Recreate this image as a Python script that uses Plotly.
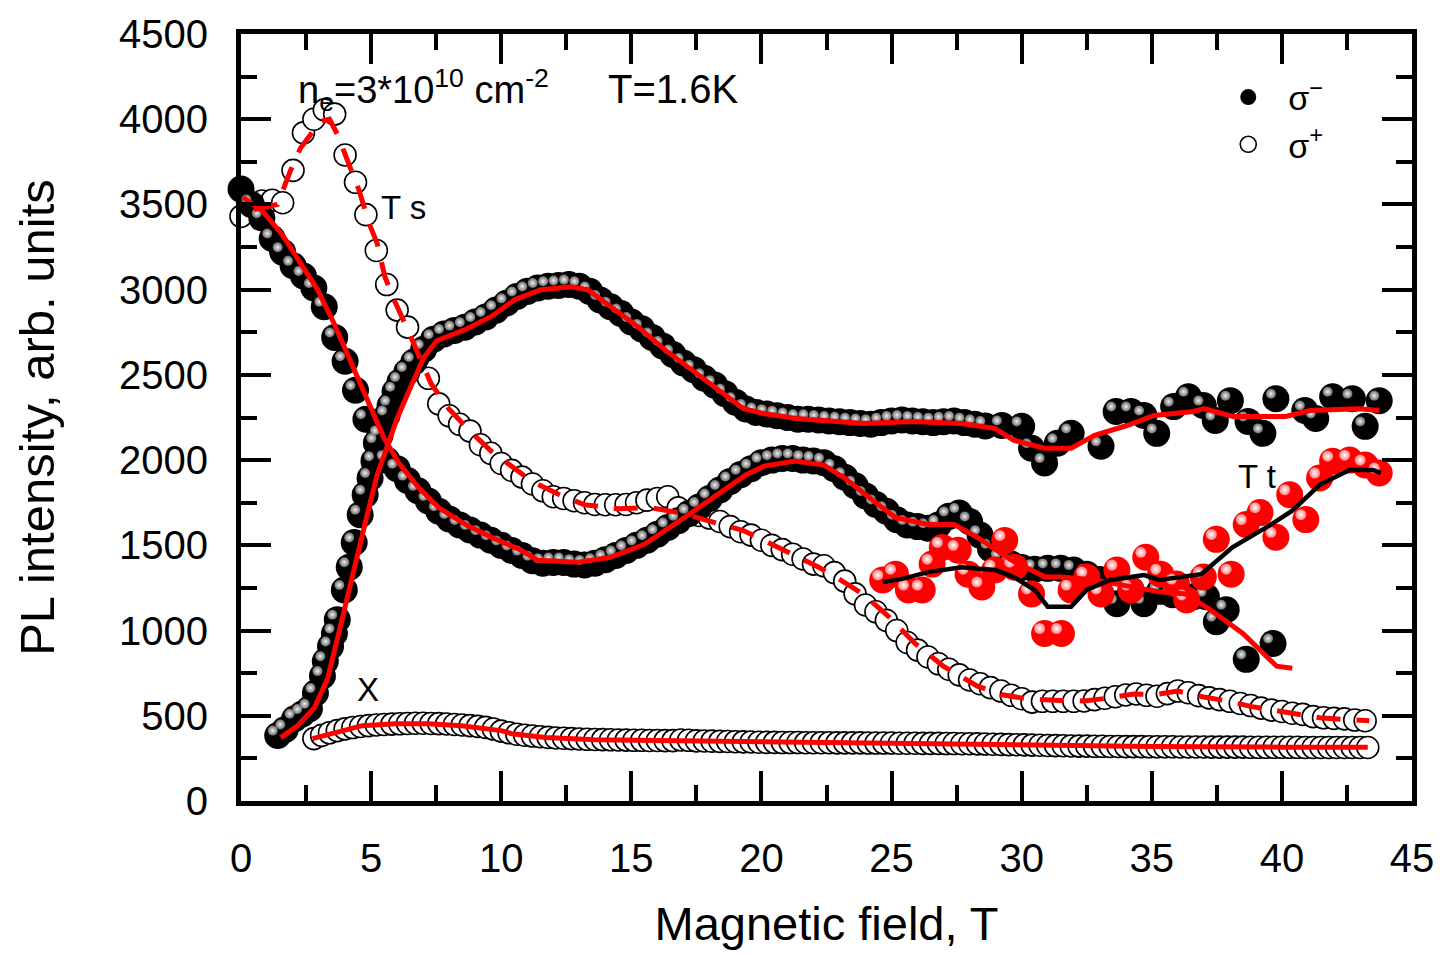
import plotly.graph_objects as go

# ---------------- data ----------------
# sigma- , Ts branch (black spheres, lower curve)
A_x = [0.0, 0.4, 0.8, 1.2, 1.6, 2.0, 2.4, 2.8, 3.2, 3.6,
       4.0, 4.4, 4.8, 5.2, 5.6, 6.0, 6.4, 6.8, 7.2, 7.6,
       8.0, 8.4, 8.8, 9.2, 9.6, 10.0, 10.4, 10.8, 11.2, 11.6,
       12.0, 12.4, 12.8, 13.2, 13.6, 14.0, 14.4, 14.8, 15.2, 15.6,
       16.0, 16.4, 16.8, 17.2, 17.6, 18.0, 18.4, 18.8, 19.2, 19.6,
       20.0, 20.4, 20.8, 21.2, 21.6, 22.0, 22.4, 22.8, 23.2, 23.6,
       24.0, 24.4, 24.8, 25.2, 25.6, 26.0, 26.4, 26.8, 27.2, 27.6,
       28.0, 28.4, 28.8, 29.2,
       29.6, 30.0, 30.5, 31.0, 31.5, 32.0, 32.5, 33.0, 33.66, 34.2,
       34.7, 35.3, 35.8, 36.6, 37.1, 37.48, 37.86, 38.63, 39.66]
A_y = [3590, 3500, 3420, 3300, 3220, 3140, 3080, 3010, 2900, 2720,
       2580, 2410, 2240, 2100, 2000, 1950, 1880, 1820, 1760, 1700,
       1655, 1620, 1590, 1560, 1530, 1500, 1470, 1440, 1410, 1395,
       1400, 1400, 1390, 1385, 1395, 1415, 1440, 1470, 1500, 1530,
       1565, 1605, 1645, 1685, 1725, 1775, 1825, 1875, 1915, 1950,
       1985, 2000, 2010, 2010, 2000, 1995, 1985, 1950, 1900, 1850,
       1790, 1740, 1700, 1650, 1620, 1610, 1600, 1620, 1670, 1690,
       1640, 1560, 1480, 1420,
       1390, 1370, 1360, 1365, 1365, 1355, 1330, 1300, 1157, 1240,
       1157, 1230, 1210, 1198, 1198, 1052, 1122, 831, 924]
A_fit_x = [0.08, 0.8, 1.6, 2.25, 2.94, 3.59, 4.16, 4.85, 5.5, 6.07, 6.83, 7.6,
           8.63, 9.62, 10.76, 11.4, 12.94, 14.2, 15.5, 16.87, 18.0, 19.4, 20.1,
           21.3, 22.4, 23.2, 24.3, 25.15, 26.4, 27.4, 28.3, 29.6, 30.9, 31.5,
           32.8, 34.3, 35.3, 36.3, 37.25, 38.5, 39.8, 40.4]
A_fit_y = [3541, 3465, 3320, 3163, 3000, 2797, 2593, 2360, 2128, 1983, 1837, 1721,
           1622, 1547, 1471, 1413, 1401, 1430, 1506, 1645, 1762, 1913, 1965,
           1994, 1971, 1895, 1762, 1663, 1622, 1622, 1547, 1413, 1314, 1314,
           1297, 1256, 1227, 1215, 1122, 983, 791, 779]

# sigma- , upper curve (black spheres)
B_x = [1.41, 1.7, 2.06, 2.35, 2.63, 2.86, 3.13, 3.24, 3.44, 3.59,
       3.7, 3.97, 4.16, 4.35, 4.58, 4.77, 4.96, 5.11, 5.34, 5.61,
       5.73, 5.92, 6.11, 6.37, 6.64, 7.02, 7.4,
       7.8, 8.2, 8.6, 9.0, 9.4, 9.8, 10.2, 10.6, 11.0, 11.4,
       11.8, 12.2, 12.6, 13.0, 13.4, 13.8, 14.2, 14.6, 15.0, 15.4,
       15.8, 16.2, 16.6, 17.0, 17.4, 17.8, 18.2, 18.6, 19.0, 19.4,
       19.8, 20.2, 20.6, 21.0, 21.4, 21.8, 22.2, 22.6, 23.0, 23.4,
       23.8, 24.2, 24.6, 25.0, 25.4, 25.8, 26.2, 26.6, 27.0, 27.4,
       27.8, 28.2, 28.6,
       29.24, 30.0, 30.38, 30.88, 31.37, 31.9, 33.05, 33.63, 34.2, 34.7,
       35.19, 35.84, 36.41, 36.98, 37.44, 38.02, 38.7, 39.27, 39.77, 40.88,
       41.3, 41.95, 42.71, 43.2, 43.74]
B_y = [384, 420, 483, 510, 541, 634, 733, 820, 907, 983,
       1064, 1238, 1372, 1517, 1680, 1797, 1895, 1994, 2145, 2262,
       2320, 2401, 2459, 2517, 2576, 2651, 2709,
       2740, 2760, 2780, 2810, 2840, 2880, 2920, 2960, 2990, 3010,
       3020, 3025, 3030, 3020, 2990, 2940, 2900, 2860, 2810, 2770,
       2720, 2670, 2620, 2570, 2530, 2480, 2440, 2390, 2340, 2300,
       2280, 2270, 2260, 2250, 2240, 2240, 2235, 2230, 2225, 2220,
       2215, 2210, 2220, 2230, 2235, 2230, 2225, 2220, 2225, 2230,
       2220, 2210, 2200,
       2203, 2198, 2070, 1983, 2099, 2157, 2081, 2285, 2285, 2262,
       2157, 2314, 2372, 2320, 2233, 2349, 2227, 2157, 2360, 2291,
       2244, 2372, 2360, 2198, 2349]
B_fit_x = [1.53, 2.18, 2.82, 3.32, 3.7, 4.08, 4.47, 4.85, 5.23, 5.61, 6.0, 6.49,
           7.02, 7.52, 8.63, 9.62, 10.53, 11.53, 12.67, 13.32, 14.2, 15.23, 16.26,
           17.25, 18.28, 19.31, 20.08, 21.34, 23.9, 25.8, 27.7, 28.97, 29.7, 30.88,
           31.9, 32.8, 34.05, 35.08, 36.6, 37.0, 38.13, 40.15, 41.07, 42.98, 43.74]
B_fit_y = [372, 442, 547, 715, 948, 1180, 1430, 1680, 1913, 2087, 2244, 2419,
           2600, 2700, 2767, 2843, 2942, 3000, 3017, 3000, 2901, 2785, 2651,
           2535, 2419, 2302, 2273, 2244, 2215, 2227, 2215, 2186, 2116, 2070,
           2070, 2145, 2203, 2262, 2285, 2302, 2256, 2256, 2291, 2302, 2291]

# sigma+ , Ts branch (open circles)
C_x = [0.0, 0.4, 0.8, 1.2, 1.6, 2.0, 2.4, 2.8, 3.2, 3.6,
       4.0, 4.4, 4.8, 5.2, 5.6, 6.0, 6.4, 6.8, 7.2, 7.6,
       8.0, 8.4, 8.8, 9.2, 9.6, 10.0, 10.4, 10.8, 11.2, 11.6,
       12.0, 12.4, 12.8, 13.2, 13.6, 14.0, 14.4, 14.8, 15.2, 15.6,
       16.0, 16.4, 16.8, 17.2, 17.6, 18.0, 18.4, 18.8, 19.2, 19.6,
       20.0, 20.4, 20.8, 21.2, 21.6, 22.0, 22.4, 22.8, 23.2, 23.6,
       24.0, 24.4, 24.8, 25.2, 25.6, 26.0, 26.4, 26.8, 27.2, 27.6,
       28.0, 28.4, 28.8, 29.2, 29.6, 30.0, 30.4, 30.8, 31.2, 31.6,
       32.0, 32.4, 32.8, 33.2, 33.6, 34.0, 34.4, 34.8, 35.2, 35.6,
       36.0, 36.4, 36.8, 37.2, 37.6, 38.0, 38.4, 38.8, 39.2, 39.6,
       40.0, 40.4, 40.8, 41.2, 41.6, 42.0, 42.4, 42.8, 43.2]
C_y = [3430, 3490, 3520, 3525, 3510, 3700, 3920, 4000, 4055, 4030,
       3790, 3630, 3440, 3230, 3030, 2880, 2780, 2600, 2480, 2330,
       2260, 2210, 2170, 2090, 2040, 1980, 1940, 1900, 1860, 1820,
       1785, 1775, 1762, 1750, 1740, 1738, 1738, 1740, 1750, 1765,
       1775, 1785, 1720, 1695, 1675, 1660, 1640, 1610, 1580, 1560,
       1530, 1500, 1475, 1448, 1420, 1390, 1380, 1340, 1290, 1215,
       1150, 1110, 1060, 1000, 930, 885, 845, 805, 773, 740,
       710, 688, 665, 645, 620, 600, 580, 585, 585, 585,
       585, 587, 595, 603, 612, 622, 628, 620, 615, 630,
       645, 635, 618, 605, 595, 585, 572, 560, 545, 533,
       525, 515, 508, 495, 488, 485, 482, 475, 471]
C_fit_x = [0.5, 1.4, 1.9, 2.29, 3.05, 3.4, 3.7, 4.27, 4.54, 4.92, 5.23, 5.53,
           5.88, 6.45, 7.3, 7.98, 8.8, 9.62, 10.4, 11.15, 12.2, 13.2, 14.5,
           15.73, 16.9, 18.0, 19.3, 20.1, 21.2, 22.2, 23.0, 23.9, 24.9, 25.9,
           27.0, 28.3, 29.2, 30.2, 31.5, 32.4, 33.4, 34.3, 35.2, 36.0, 37.0,
           37.9, 38.8, 39.8, 40.6, 41.45, 42.4, 43.36]
C_fit_y = [3470, 3500, 3698, 3831, 3988, 4000, 3913, 3698, 3581, 3390, 3273, 3076,
           2942, 2750, 2450, 2302, 2170, 2052, 1960, 1878, 1800, 1738, 1715,
           1721, 1690, 1645, 1587, 1529, 1450, 1372, 1300, 1215, 1080, 924,
           790, 674, 625, 599, 590, 587, 605, 628, 625, 645, 610,
           587, 555, 529, 505, 488, 478, 471]

# sigma+ , exciton X (open circles, bottom)
D_x = [2.8, 3.1, 3.4, 3.7, 4.0, 4.3, 4.6, 4.9, 5.2, 5.5,
       5.8, 6.1, 6.4, 6.7, 7.0, 7.3, 7.6, 7.9, 8.2, 8.5,
       8.8, 9.1, 9.4, 9.7, 10.0, 10.3, 10.6, 10.9, 11.2, 11.5,
       11.8, 12.1, 12.4, 12.7, 13.0, 13.3, 13.6, 13.9, 14.2, 14.5,
       14.8, 15.1, 15.4, 15.7, 16.0, 16.3, 16.6, 16.9, 17.2, 17.5,
       17.8, 18.1, 18.4, 18.7, 19.0, 19.3, 19.6, 19.9, 20.2, 20.5,
       20.8, 21.1, 21.4, 21.7, 22.0, 22.3, 22.6, 22.9, 23.2, 23.5,
       23.8, 24.1, 24.4, 24.7, 25.0, 25.3, 25.6, 25.9, 26.2, 26.5,
       26.8, 27.1, 27.4, 27.7, 28.0, 28.3, 28.6, 28.9, 29.2, 29.5,
       29.8, 30.1, 30.4, 30.7, 31.0, 31.3, 31.6, 31.9, 32.2, 32.5,
       32.8, 33.1, 33.4, 33.7, 34.0, 34.3, 34.6, 34.9, 35.2, 35.5,
       35.8, 36.1, 36.4, 36.7, 37.0, 37.3, 37.6, 37.9, 38.2, 38.5,
       38.8, 39.1, 39.4, 39.7, 40.0, 40.3, 40.6, 40.9, 41.2, 41.5,
       41.8, 42.1, 42.4, 42.7, 43.0, 43.3]
D_y = [366, 385, 400, 413, 423, 431, 437, 442, 446, 449,
       451, 453, 455, 456, 456, 455, 454, 452, 449, 446,
       442, 438, 432, 422, 410, 400, 392, 386, 381, 377,
       373, 370, 368, 366, 364, 362, 361, 360, 359, 358,
       357, 356, 356, 355, 355, 354, 354, 358, 356, 353,
       352, 351, 350, 349, 348, 347, 346, 345, 344, 344,
       343, 343, 343, 342, 342, 342, 342, 341, 341, 341,
       341, 340, 340, 340, 340, 339, 339, 339, 338, 338,
       338, 337, 337, 336, 336, 335, 334, 333, 332, 331,
       330, 329, 328, 327, 326, 325, 324, 323, 322, 322,
       321, 321, 320, 320, 319, 319, 319, 318, 318, 318,
       318, 317, 317, 317, 317, 316, 316, 316, 316, 316,
       315, 315, 315, 315, 315, 315, 315, 314, 314, 314,
       314, 314, 314, 314, 314, 314]
D_fit_x = [2.75, 3.66, 4.66, 5.95, 7.2, 8.47, 9.4, 10.0, 10.4, 11.7, 13.6, 18.7,
           25.0, 30.0, 35.0, 40.0, 43.3]
D_fit_y = [366, 401, 442, 453, 453, 442, 424, 413, 395, 372, 360, 349,
           340, 330, 320, 316, 315]

# Tt branch (red spheres)
E_x = [24.66, 25.15, 25.65, 26.18, 26.56, 26.95, 27.56, 27.94, 28.47, 28.97,
       29.35, 29.73, 30.38, 30.88, 31.53, 31.9, 32.5, 33.05, 33.66, 34.2,
       34.77, 35.34, 35.95, 36.34, 36.98, 37.48, 38.05, 38.63, 39.16, 39.77,
       40.3, 40.92, 41.45, 41.95, 42.6, 43.2, 43.74]
E_y = [1297, 1331, 1238, 1238, 1390, 1488, 1471, 1331, 1256, 1355,
       1529, 1372, 1215, 983, 983, 1238, 1314, 1215, 1355, 1238,
       1430, 1331, 1273, 1180, 1314, 1535, 1331, 1622, 1692, 1547,
       1797, 1651, 1895, 1994, 2000, 1971, 1924]
E_fit_x = [24.66, 25.4, 26.4, 27.7, 28.6, 29.0, 29.7, 30.5, 31.0, 31.9, 32.5,
           33.4, 34.7, 35.3, 36.9, 38.1, 39.4, 40.4, 41.45, 42.6, 43.5, 43.8]
E_fit_y = [1285, 1303, 1343, 1372, 1360, 1355, 1314, 1238, 1140, 1140, 1238,
           1297, 1326, 1297, 1331, 1488, 1605, 1703, 1855, 1942, 1942, 1924]

X_RANGE = [0, 45]
Y_RANGE = [0, 4500]
X_TICKS = [0, 5, 10, 15, 20, 25, 30, 35, 40, 45]
Y_TICKS = [0, 500, 1000, 1500, 2000, 2500, 3000, 3500, 4000, 4500]

# ---------------- style ----------------
FONT = "Liberation Sans, Arial, sans-serif"
RED = "#ff0000"
SPH = 27          # sphere diameter (px)
HL = 10           # highlight diameter (px)
PLOT_W = 1446 - 241 - 26
PLOT_H = 955 - 32 - 149
# highlight offset in data units (about 5 px up-left)
DX = 5 / (PLOT_W / 45)
DY = 5 / (PLOT_H / 4500)

fig = go.Figure()

def add(tr):
    tr.update(cliponaxis=False, hoverinfo="skip")
    fig.add_trace(tr)

# layer 1 (x,y): open circles and black spheres
add(go.Scatter(x=D_x, y=D_y, mode="markers", showlegend=False,
               marker=dict(size=22, color="white", line=dict(color="black", width=1.6))))
add(go.Scatter(x=C_x, y=C_y, mode="markers", name="σ<sup>+</sup>", legendrank=2,
               marker=dict(size=22, color="white", line=dict(color="black", width=1.6))))
add(go.Scatter(x=A_x, y=A_y, mode="markers", name="σ<sup>−</sup>", legendrank=1,
               marker=dict(size=SPH, color="black", line=dict(width=0))))
add(go.Scatter(x=B_x, y=B_y, mode="markers", showlegend=False,
               marker=dict(size=SPH, color="black", line=dict(width=0))))

# layer 2 (x2,y2): sphere highlights, shifted up-left
for xs, ys in ((A_x, A_y), (B_x, B_y)):
    add(go.Scatter(x=xs, y=ys, xaxis="x2", yaxis="y2", mode="markers", showlegend=False,
                   marker=dict(size=HL, color="#6a6a6a", line=dict(width=0),
                               gradient=dict(type="radial", color="#f0f0f0"))))

# layer 3 (x3,y3): red spheres
add(go.Scatter(x=E_x, y=E_y, xaxis="x3", yaxis="y3", mode="markers", showlegend=False,
               marker=dict(size=SPH, color=RED, line=dict(width=0))))
# layer 4 (x4,y4): red sphere highlights
add(go.Scatter(x=E_x, y=E_y, xaxis="x4", yaxis="y4", mode="markers", showlegend=False,
               marker=dict(size=HL + 1, color="#ff8080", line=dict(width=0),
                           gradient=dict(type="radial", color="#ffffff"))))

# layer 5 (x5,y5): fit lines
add(go.Scatter(x=D_fit_x, y=D_fit_y, xaxis="x5", yaxis="y5", mode="lines", showlegend=False,
               line=dict(color=RED, width=5)))
add(go.Scatter(x=C_fit_x, y=C_fit_y, xaxis="x5", yaxis="y5", mode="lines", showlegend=False,
               line=dict(color=RED, width=5, dash="24px,16px")))
add(go.Scatter(x=A_fit_x, y=A_fit_y, xaxis="x5", yaxis="y5", mode="lines", showlegend=False,
               line=dict(color=RED, width=5)))
add(go.Scatter(x=B_fit_x, y=B_fit_y, xaxis="x5", yaxis="y5", mode="lines", showlegend=False,
               line=dict(color=RED, width=5)))
add(go.Scatter(x=E_fit_x, y=E_fit_y, xaxis="x5", yaxis="y5", mode="lines", showlegend=False,
               line=dict(color="black", width=4.5)))

tick_common = dict(ticks="inside", tickcolor="black", tickwidth=4, ticklen=30,
                   showline=True, linecolor="black", linewidth=5, mirror="ticks",
                   showgrid=False, zeroline=False,
                   tickfont=dict(family=FONT, size=40, color="black"))

layout_axes = dict(
    xaxis=dict(range=X_RANGE, tickvals=X_TICKS, ticklabelstandoff=18,
               minor=dict(dtick=2.5, ticks="inside", ticklen=16, tickwidth=4,
                          tickcolor="black", showgrid=False),
               title=dict(text="Magnetic field, T", standoff=30,
                          font=dict(family=FONT, size=47, color="black")),
               **tick_common),
    yaxis=dict(range=Y_RANGE, tickvals=Y_TICKS, ticklabelstandoff=20,
               minor=dict(dtick=250, ticks="inside", ticklen=16, tickwidth=4,
                          tickcolor="black", showgrid=False),
               title=dict(text="PL intensity, arb. units", standoff=50,
                          font=dict(family=FONT, size=49, color="black")),
               **tick_common),
)
shift = {2: (DX, -DY), 3: (0, 0), 4: (DX, -DY), 5: (0, 0)}
for k, (dx, dy) in shift.items():
    layout_axes[f"xaxis{k}"] = dict(overlaying="x", range=[X_RANGE[0] + dx, X_RANGE[1] + dx],
                                    visible=False, showgrid=False, zeroline=False)
    layout_axes[f"yaxis{k}"] = dict(overlaying="y", range=[Y_RANGE[0] + dy, Y_RANGE[1] + dy],
                                    visible=False, showgrid=False, zeroline=False)

fig.update_layout(
    width=1446, height=955,
    margin=dict(l=241, r=26, t=32, b=149),
    paper_bgcolor="white", plot_bgcolor="white",
    font=dict(family=FONT, color="black"),
    showlegend=True,
    legend=dict(x=0.826, y=0.955, xanchor="left", yanchor="top",
                bgcolor="rgba(0,0,0,0)", borderwidth=0,
                font=dict(family=FONT, size=34, color="black"),
                itemsizing="trace", itemwidth=70, tracegroupgap=0),
    annotations=[
        dict(text="n<sub>e</sub>=3*10<sup>10</sup> cm<sup>-2</sup>", x=0.047, y=0.965,
             xref="paper", yref="paper", xanchor="left", yanchor="top", showarrow=False,
             font=dict(family=FONT, size=38, color="black")),
        dict(text="T=1.6K", x=0.312, y=0.959, xref="paper", yref="paper",
             xanchor="left", yanchor="top", showarrow=False,
             font=dict(family=FONT, size=40, color="black")),
        dict(text="T s", x=0.118, y=0.80, xref="paper", yref="paper",
             xanchor="left", yanchor="top", showarrow=False,
             font=dict(family=FONT, size=33, color="black")),
        dict(text="X", x=0.097, y=0.172, xref="paper", yref="paper",
             xanchor="left", yanchor="top", showarrow=False,
             font=dict(family=FONT, size=33, color="black")),
        dict(text="T t", x=0.85, y=0.45, xref="paper", yref="paper",
             xanchor="left", yanchor="top", showarrow=False,
             font=dict(family=FONT, size=33, color="black")),
    ],
    **layout_axes,
)

fig.write_html("out.html")
